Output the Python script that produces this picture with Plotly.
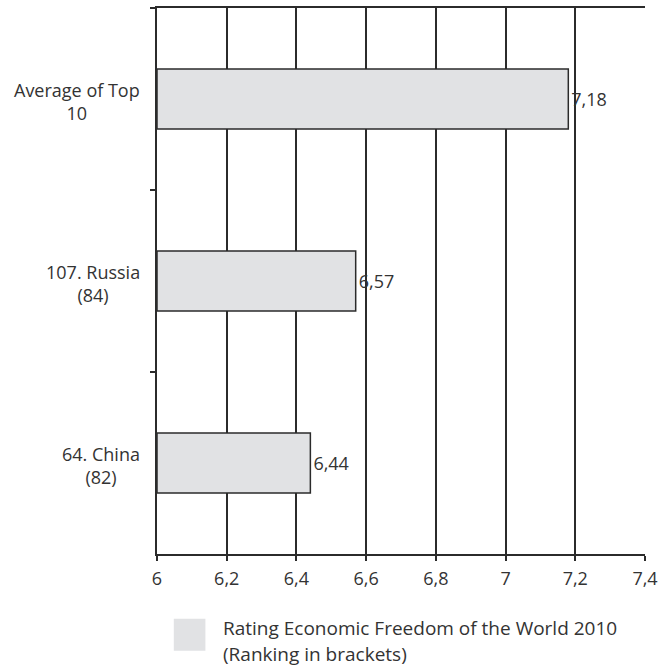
import plotly.graph_objects as go

# data
categories = ["Average of Top<br>10", "107. Russia<br>(84)", "64. China<br>(82)"]
ratings = [7.18, 6.57, 6.44]
x_start = 6
legend_lines = ["Rating Economic Freedom of the World 2010", "(Ranking in brackets)"]

BAR_FILL = "#e1e2e4"
INK = "#2b2b2b"
FONT = dict(family="Open Sans, sans-serif", size=18, color="#333333")
LEG_FONT = dict(family="Open Sans, sans-serif", size=19, color="#333333")

# plot area in pixels: x 157..651, y 6..554
PL, PW, PB, PH = 157, 494, 554, 548


def px_x(x):
    return (x - PL) / PW


def px_y(y):
    return (PB - y) / PH


fig = go.Figure(go.Bar(
    y=categories,
    x=[v - x_start for v in ratings],
    base=x_start,
    customdata=ratings,
    orientation="h",
    marker=dict(color=BAR_FILL, line=dict(color=INK, width=1.5)),
    texttemplate="%{customdata:.2f}",
    textposition="outside",
    textfont=FONT,
    cliponaxis=False,
    showlegend=False,
))

fig.update_layout(
    width=664, height=667,
    margin=dict(l=157, r=13, t=6, b=113),
    paper_bgcolor="white", plot_bgcolor="white",
    font=FONT,
    separators=", ",
    bargap=0.67,
    showlegend=False,
)
fig.update_xaxes(
    range=[6, 7.4], dtick=0.2, tick0=6,
    showgrid=True, gridcolor=INK, gridwidth=1.5,
    showline=True, linecolor=INK, linewidth=1.5, mirror=True,
    ticks="outside", ticklen=5, tickcolor=INK, tickwidth=1.5,
    ticklabelstandoff=3,
    zeroline=False, tickfont=FONT,
)
fig.update_yaxes(
    autorange="reversed",
    showgrid=False,
    showline=True, linecolor=INK, linewidth=1.5,
    ticks="outside", tickson="boundaries", ticklen=5, tickcolor=INK, tickwidth=1.5,
    showticklabels=False,
)

# category labels, centred multi-line like the original
for c in categories:
    fig.add_annotation(
        x=0, xref="paper", xanchor="right", xshift=-15,
        y=c, yref="y", yanchor="middle", yshift=-2,
        text=c, showarrow=False, align="center", font=FONT,
    )

# legend drawn by hand (plotly's legend swatch is too small)
fig.add_shape(type="rect", xref="paper", yref="paper",
              x0=px_x(174), x1=px_x(206), y0=px_y(651), y1=px_y(619),
              fillcolor=BAR_FILL, line=dict(width=0))
for line, yc in zip(legend_lines, [628, 654]):
    fig.add_annotation(
        x=px_x(222), xref="paper", xanchor="left",
        y=px_y(yc), yref="paper", yanchor="middle",
        text=line, showarrow=False, align="left", font=LEG_FONT,
    )

fig.write_html("out.html", config={"displayModeBar": False},
               post_script="document.body.style.margin='0';")
